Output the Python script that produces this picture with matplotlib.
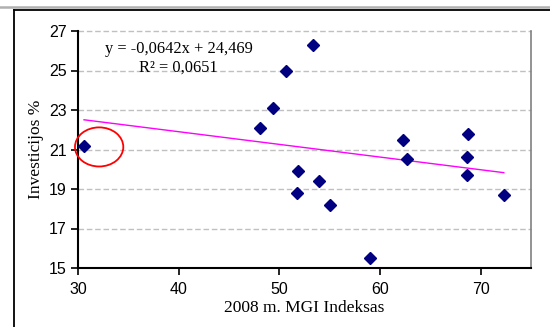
import matplotlib
matplotlib.use("Agg")
import matplotlib.pyplot as plt
from matplotlib.patches import Ellipse
from matplotlib.lines import Line2D
import numpy as np

mgi = [30.6, 48.1, 49.4, 50.7, 53.3, 51.9, 51.8, 53.9, 55.0, 59.0,
       62.3, 62.7, 68.7, 68.6, 68.6, 72.3]
invest = [21.2, 22.1, 23.1, 25.0, 26.3, 19.9, 18.8, 19.4, 18.2, 15.5,
          21.5, 20.5, 21.8, 20.6, 19.7, 18.7]
slope = -0.0642
intercept = 24.469
eq_text = "y = -0,0642x + 24,469"
r2_text = "R² = 0,0651"
x_ticks = [30, 40, 50, 60, 70]
y_ticks = [15, 17, 19, 21, 23, 25, 27]

fig = plt.figure(figsize=(5.5, 3.27), dpi=100)
ax = fig.add_axes([78/550, 1-268/327, (531-78)/550, (268-31)/327])

ax.set_xlim(30, 75)
ax.set_ylim(15, 27)
ax.set_xticks(x_ticks)
ax.set_yticks(y_ticks)
for y in y_ticks[1:]:
    ax.axhline(y, color="#c0c0c0", lw=1, dashes=(4, 2), zorder=0,
               clip_on=False)

xs = np.array([min(mgi), max(mgi)])
ax.plot(xs, slope*xs + intercept, color="#ff00ff", lw=1, zorder=2)
ax.plot(mgi, invest, linestyle="none", marker="D", ms=6,
        color="#000080", zorder=3)

ax.add_patch(Ellipse((32.1, 21.13), 4.8, 1.98, fill=False,
                     edgecolor="#ff0000", lw=1.3, clip_on=False, zorder=4))

ax.text(40, 26.1, eq_text, ha="center", va="center",
        family="Liberation Serif", fontsize=11.8)
ax.text(40, 25.12, r2_text, ha="center", va="center",
        family="Liberation Serif", fontsize=11.8)

for s in ["left", "bottom"]:
    ax.spines[s].set_color("black")
    ax.spines[s].set_linewidth(1.5)
ax.spines["right"].set_color("#808080")
ax.spines["right"].set_linewidth(1.2)
ax.spines["top"].set_visible(False)

ax.tick_params(direction="out", length=5, width=1.2, labelsize=11.5,
               right=False, top=False)
ax.tick_params(axis="x", pad=5)
ax.tick_params(axis="y", pad=3)
for lab in ax.get_xticklabels() + ax.get_yticklabels():
    lab.set_family("Liberation Sans")

ax.set_xlabel("2008 m. MGI Indeksas", family="Liberation Serif",
              fontsize=12.5, labelpad=2)
ax.set_ylabel("Investicijos %", family="Liberation Serif",
              fontsize=12.5, labelpad=4)

# outer frame
fig.add_artist(Line2D([0, 1], [1-7/327, 1-7/327], color="#b0b0b0",
                      lw=1.8, transform=fig.transFigure))
fig.add_artist(Line2D([13.5/550, 1], [1-9.5/327, 1-9.5/327], color="black",
                      lw=1.3, transform=fig.transFigure))
fig.add_artist(Line2D([13.5/550, 13.5/550], [0, 1-9.5/327], color="black",
                      lw=1.3, transform=fig.transFigure))

fig.savefig("out.png", dpi=100)
